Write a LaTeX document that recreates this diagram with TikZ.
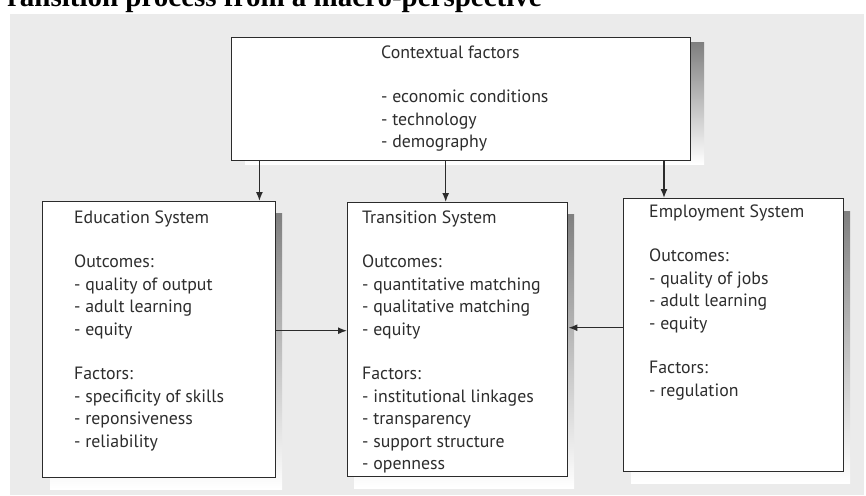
\documentclass[tikz,border=0pt]{standalone}
\usepackage{fontspec}
\setsansfont{PT Sans}
\newfontfamily\titlefont{Liberation Serif}
\usetikzlibrary{arrows.meta}
\definecolor{panel}{HTML}{EBEBEB}
\definecolor{shade}{HTML}{C6C6C6}
\definecolor{ink}{HTML}{2B2B2B}
\definecolor{txt}{HTML}{2D2D2D}
\begin{document}
\begin{tikzpicture}[x=1pt,y=-1pt,
  box/.style={draw=ink, line width=1.4pt, fill=white, anchor=north west, inner sep=0pt},
  lbl/.style={anchor=base west, align=left, inner sep=0pt, text=txt, font=\sffamily\fontsize{17.8}{22.4}\selectfont},
  arr/.style={draw=ink, line width=1.4pt, -{Latex[length=9pt,width=7pt]}}]
\useasboundingbox (0,0) rectangle (866,495);
\fill[panel] (10,14) rectangle (864,495);
\node[anchor=base east, inner sep=0pt, font=\titlefont\bfseries\fontsize{29}{30}\selectfont] (title) at (542,7) {ransition process from a macro-perspective};
% shadows
\fill[shade] (245,43) rectangle (704,164);
\fill[shade] (50,213) rectangle (282,489);
\fill[shade] (354,214) rectangle (574,488);
\fill[shade] (631,211) rectangle (850,483);
% boxes
\node[box, minimum width=459pt, minimum height=123pt] (ctx) at (231,37) {};
\node[box, minimum width=233pt, minimum height=276pt] (edu) at (42,201) {};
\node[box, minimum width=220pt, minimum height=274pt] (tra) at (347,202) {};
\node[box, minimum width=220pt, minimum height=273pt] (emp) at (623,198) {};
% texts (anchored at the baseline of their last line)
\node[lbl] (ctxt) at (381,147.6) {Contextual factors\\[22.4pt] - economic conditions\\ - technology\\ - demography};
\node[lbl] (edut) at (74,447) {Education System\\[22.4pt] Outcomes:\\ - quality of output\\ - adult learning\\ - equity\\[22.4pt] Factors:\\ - specificity of skills\\ - reponsiveness\\ - reliability};
\node[lbl] (trat) at (362,469.4) {Transition System\\[22.4pt] Outcomes:\\ - quantitative matching\\ - qualitative matching\\ - equity\\[22.4pt] Factors:\\ - institutional linkages\\ - transparency\\ - support structure\\ - openness};
\node[lbl] (empt) at (649,396.2) {Employment System\\[22.4pt] Outcomes:\\ - quality of jobs\\ - adult learning\\ - equity\\[22.4pt] Factors:\\ - regulation};
% connectors
\coordinate (e1) at ([xshift=-17pt]edu.north east);
\coordinate (c1) at ([xshift=-12pt]tra.north);
\coordinate (m1) at ([xshift=41pt]emp.north west);
\coordinate (h1) at ([yshift=9pt]edu.east);
\coordinate (h2) at ([yshift=7.5pt]emp.west);
\draw[arr] (e1 |- ctx.south) -- (e1);
\draw[arr] (c1 |- ctx.south) -- (c1);
\draw[arr] (m1 |- ctx.south) -- (m1);
\draw[arr] (h1) -- (h1 -| tra.west);
\draw[arr] (h2) -- (h2 -| tra.east);
\end{tikzpicture}
\end{document}
